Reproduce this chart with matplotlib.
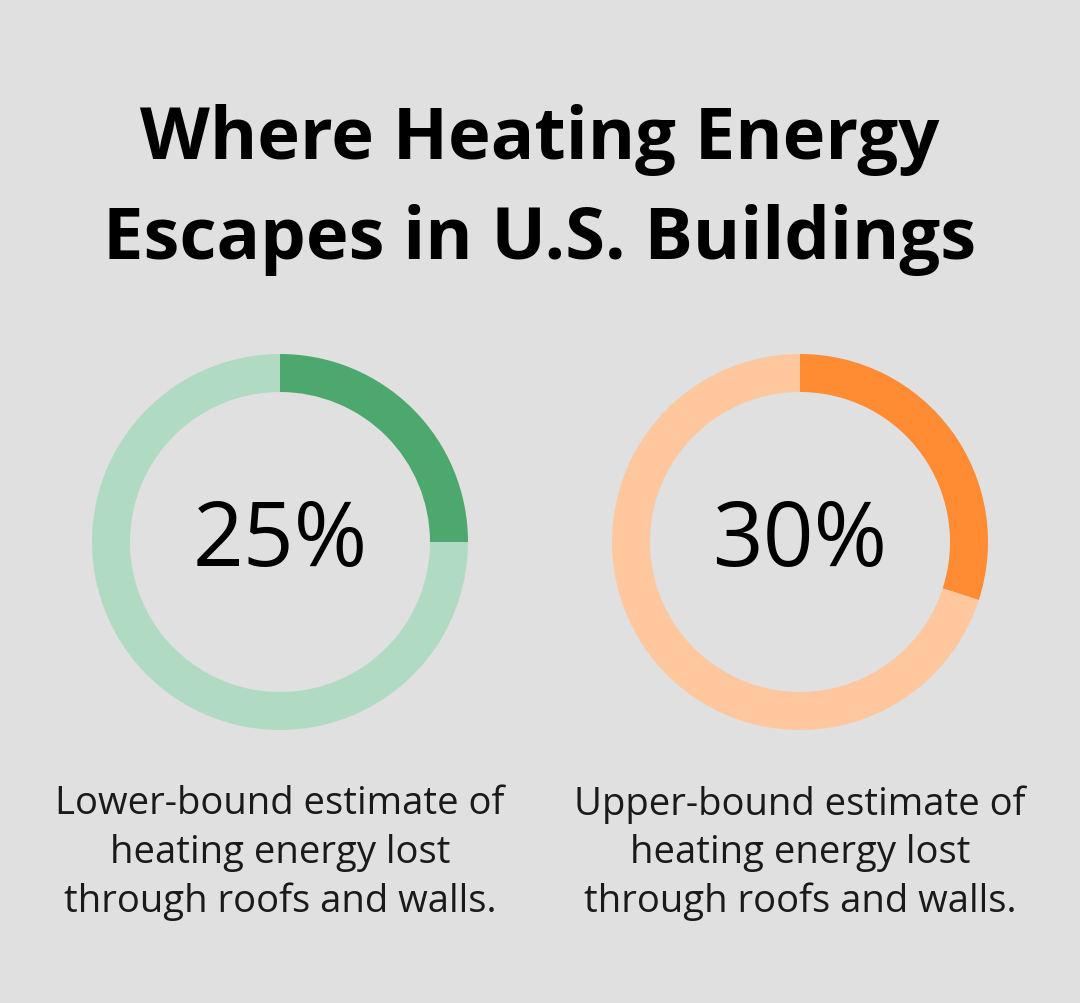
import matplotlib
matplotlib.use("Agg")
import matplotlib.pyplot as plt

# data
values = [25, 30]
labels = ["25%", "30%"]
captions = [
    "Lower-bound estimate of\nheating energy lost\nthrough roofs and walls.",
    "Upper-bound estimate of\nheating energy lost\nthrough roofs and walls.",
]
dark_colors = ["#4CA86C", "#FF8B33"]
light_colors = ["#B0DBC2", "#FFC79E"]

W, H = 1080, 1004
bg = "#DFE0DF"
plt.rcParams['font.family'] = ['Open Sans', 'DejaVu Sans']

fig = plt.figure(figsize=(W / 100, H / 100), dpi=100, facecolor=bg)

fig.text(0.5, 1 - 140 / H, "Where Heating Energy", ha="center", va="center",
         fontsize=52, fontweight="bold", color="black")
fig.text(0.5, 1 - 240 / H, "Escapes in U.S. Buildings", ha="center", va="center",
         fontsize=52, fontweight="bold", color="black")

centers_x = [280, 800]
cy, r = 543, 188
for i, cx in enumerate(centers_x):
    ax = fig.add_axes([(cx - r) / W, (H - cy - r) / H, 2 * r / W, 2 * r / H])
    ax.pie([values[i], 100 - values[i]], colors=[dark_colors[i], light_colors[i]],
           startangle=90, counterclock=False, radius=1,
           wedgeprops=dict(width=38 / r, linewidth=0))
    ax.set_xlim(-1, 1)
    ax.set_ylim(-1, 1)
    ax.set_aspect("auto")
    ax.axis("off")
    ax.text(0, 0, labels[i], ha="center", va="center", fontsize=64, color="black")
    fig.text(cx / W, 1 - 853 / H, captions[i], ha="center", va="center",
             fontsize=27.5, color="#1a1a1a", linespacing=1.35)

fig.savefig("out.png", dpi=100, facecolor=bg)
